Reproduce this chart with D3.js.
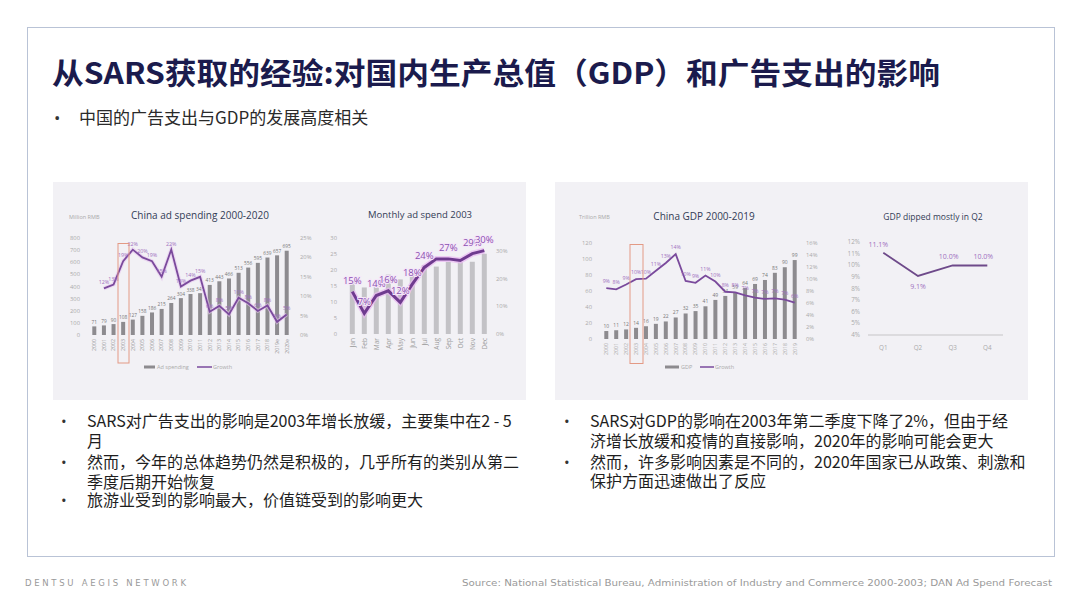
<!DOCTYPE html>
<html><head><meta charset="utf-8">
<script src="https://cdn.jsdelivr.net/npm/d3@7"></script>
<style>body{margin:0;background:#fff}svg{display:block}</style>
</head><body><svg id="s" width="1080" height="608"></svg>
<script>
// ---------- data ----------
const adYears = ["2000","2001","2002","2003","2004","2005","2006","2007","2008","2009","2010","2011","2012","2013","2014","2015","2016","2017","2018","2019e","2020e"];
const adSpend = [71,79,90,108,127,158,186,215,264,304,338,345,413,443,466,513,556,595,639,657,695];
const adGrowth = [null,12,13,19,22,20,19,15,22,12.5,14,15,6,7.5,5.3,9.6,8.2,6.2,7.6,3.4,5.3];
const adLeftTicks = [0,100,200,300,400,500,600,700,800];
const adRightTicks = [0,5,10,15,20,25];

const months = ["Jan","Feb","Mar","Apr","May","Jun","Jul","Aug","Sep","Oct","Nov","Dec"];
const monthSpend = [16.5,14.5,16,18.5,17,19,21.5,21,22.5,22.5,22.5,25];
const monthGrowth = [15.4,7.5,14,15.7,11.5,18.1,24.2,27.3,27.3,26.7,29.2,30.3];
const monthLabels = ["15%","7%","14%","16%","12%","18%","24%","","27%","","29%","30%"];
const monthLeftTicks = [0,5,10,15,20,25,30];
const monthRightTicks = [0,10,20,30];

const gdpYears = ["2000","2001","2002","2003","2004","2005","2006","2007","2008","2009","2010","2011","2012","2013","2014","2015","2016","2017","2018","2019"];
const gdp = [10,11,12,14,16,19,22,27,32,35,41,49,54,59,64,69,74,83,90,99];
const gdpGrowth = [8.5,8.3,9.1,10.0,10.1,11.4,12.7,14.2,9.7,9.4,10.6,9.6,7.9,7.8,7.3,6.9,6.7,6.8,6.6,6.1];
const gdpLeftTicks = [0,20,40,60,80,100,120];
const gdpRightTicks = [0,2,4,6,8,10,12,14,16];

const quarters = ["Q1","Q2","Q3","Q4"];
const qGrowth = [11.1,9.1,10.0,10.0];
const qTicks = [4,5,6,7,8,9,10,11,12];

const svg = d3.select("#s");
const CJK = "'Noto Sans CJK SC','Noto Sans',sans-serif";
const LAT = "'Open Sans','Noto Sans',sans-serif";
const PURPLE = "#7a4a9c";

svg.append("rect").attr("width",1080).attr("height",608).attr("fill","#fff");
svg.append("rect").attr("x",27.5).attr("y",27.5).attr("width",1027).attr("height",529)
  .attr("fill","none").attr("stroke","#b9c3d6").attr("stroke-width",1);

svg.append("text").attr("x",52).attr("y",84).attr("font-family",CJK).attr("font-weight",700)
  .attr("font-size",30).attr("fill","#1b1b4d").attr("textLength",888).attr("lengthAdjust","spacingAndGlyphs")
  .text("从SARS获取的经验:对国内生产总值（GDP）和广告支出的影响");
svg.append("text").attr("x",54).attr("y",124).attr("font-family",LAT).attr("font-size",17).attr("fill","#333").text("•");
svg.append("text").attr("x",79).attr("y",124).attr("font-family",CJK).attr("font-size",17).attr("fill","#2a2a2a")
  .text("中国的广告支出与GDP的发展高度相关");

// panels
svg.append("rect").attr("x",53).attr("y",182).attr("width",473).attr("height",218).attr("fill","#f2f1f5");
svg.append("rect").attr("x",555).attr("y",182).attr("width",473).attr("height",218).attr("fill","#f2f1f5");

function txt(g,x,y,s,size,fill,anchor,fam){
  return g.append("text").attr("x",x).attr("y",y).attr("font-size",size).attr("fill",fill)
    .attr("text-anchor",anchor||"start").attr("font-family",fam||LAT).text(s);
}
function rotLabels(g,data,xs,y,size,fill){
  g.selectAll(null).data(data).join("text")
    .attr("transform",d=>`translate(${xs(d)+size*0.35},${y}) rotate(-90)`)
    .attr("text-anchor","end").attr("font-size",size).attr("font-family",LAT).attr("fill",fill).text(d=>d);
}

// ---------- chart 1 ----------
{
  const g = svg.append("g");
  const x = d3.scalePoint().domain(adYears).range([94.3,286.7]);
  const yL = d3.scaleLinear().domain([0,800]).range([335,238]);
  const yR = d3.scaleLinear().domain([0,25]).range([335,238]);
  txt(g,200,219,"China ad spending 2000-2020",10,"#333c55","middle");
  txt(g,69,219,"Million RMB",5.5,"#aaa");
  g.selectAll(null).data(adLeftTicks).join("text").attr("x",80).attr("y",d=>yL(d)+2).attr("text-anchor","end")
    .attr("font-size",5.8).attr("fill","#aaa").attr("font-family",LAT).text(d=>d);
  g.selectAll(null).data(adRightTicks).join("text").attr("x",300).attr("y",d=>yR(d)+2)
    .attr("font-size",5.8).attr("fill","#aaa").attr("font-family",LAT).text(d=>d+"%");
  g.selectAll(null).data(adSpend).join("rect").attr("x",(d,i)=>x(adYears[i])-2).attr("width",4)
    .attr("y",d=>yL(d)).attr("height",d=>yL(0)-yL(d)).attr("fill","#8d8b8f");
  g.selectAll(null).data(adSpend).join("text").attr("x",(d,i)=>x(adYears[i])).attr("y",d=>yL(d)-2.5)
    .attr("text-anchor","middle").attr("font-size",4.8).attr("fill","#777").attr("font-family",LAT).text(d=>d);
  const pts = adGrowth.map((v,i)=>[x(adYears[i]),v]).filter(p=>p[1]!=null);
  const line = d3.line().x(p=>p[0]).y(p=>yR(p[1]));
  g.append("path").attr("d",line(pts)).attr("fill","none").attr("stroke","#e6c6ee").attr("stroke-width",4).attr("opacity",0.6);
  g.append("path").attr("d",line(pts)).attr("fill","none").attr("stroke",PURPLE).attr("stroke-width",1.8);
  g.selectAll(null).data(pts).join("text").attr("x",p=>p[0]).attr("y",p=>yR(p[1])-4)
    .attr("text-anchor","middle").attr("font-size",5.3).attr("fill","#a070c0").attr("font-family",LAT)
    .text(p=>Math.round(p[1])+"%");
  rotLabels(g,adYears,x,339,5.2,"#999");
  g.append("rect").attr("x",118).attr("y",243.5).attr("width",11).attr("height",119.5)
    .attr("fill","none").attr("stroke","#e39a85").attr("stroke-width",1);
  g.append("rect").attr("x",144).attr("y",365.5).attr("width",11).attr("height",3).attr("fill","#8d8b8f");
  txt(g,157,369,"Ad spending",5.5,"#aaa");
  g.append("line").attr("x1",197).attr("x2",212).attr("y1",367).attr("y2",367).attr("stroke",PURPLE).attr("stroke-width",1.5);
  txt(g,213,369,"Growth",5.5,"#aaa");
}

// ---------- chart 2 ----------
{
  const g = svg.append("g");
  const x = d3.scalePoint().domain(months).range([352.3,484.3]);
  const yL = d3.scaleLinear().domain([0,30]).range([334,237.7]);
  const yR = d3.scaleLinear().domain([0,35]).range([334,237.7]);
  txt(g,420,218,"Monthly ad spend 2003",9.5,"#333c55","middle");
  g.selectAll(null).data(monthLeftTicks).join("text").attr("x",337).attr("y",d=>yL(d)+2).attr("text-anchor","end")
    .attr("font-size",5.8).attr("fill","#aaa").attr("font-family",LAT).text(d=>d);
  g.selectAll(null).data(monthRightTicks).join("text").attr("x",496).attr("y",d=>yR(d)+2)
    .attr("font-size",5.8).attr("fill","#aaa").attr("font-family",LAT).text(d=>d+"%");
  g.selectAll(null).data(monthSpend).join("rect").attr("x",(d,i)=>x(months[i])-2.5).attr("width",5)
    .attr("y",d=>yL(d)).attr("height",d=>yL(0)-yL(d)).attr("fill","#c3c2c6");
  const line = d3.line().x((v,i)=>x(months[i])).y(v=>yR(v));
  g.append("path").attr("d",line(monthGrowth)).attr("fill","none").attr("stroke","#eab8f2").attr("stroke-width",6).attr("opacity",0.7);
  g.append("path").attr("d",line(monthGrowth)).attr("fill","none").attr("stroke","#6f3b8f").attr("stroke-width",3);
  g.selectAll(null).data(monthGrowth).join("text").attr("x",(v,i)=>x(months[i])).attr("y",v=>yR(v)-8)
    .attr("text-anchor","middle").attr("font-size",9.5).attr("fill","#8a52b0").attr("font-family",LAT)
    .attr("stroke","#f6e6fa").attr("stroke-width",2).attr("paint-order","stroke")
    .text((v,i)=>monthLabels[i]);
  rotLabels(g,months,x,338,6.5,"#999");
}

// ---------- chart 3 ----------
{
  const g = svg.append("g");
  const x = d3.scalePoint().domain(gdpYears).range([606.3,794.7]);
  const yL = d3.scaleLinear().domain([0,120]).range([339,243.3]);
  const yR = d3.scaleLinear().domain([0,16]).range([339,243.3]);
  txt(g,704,220,"China GDP 2000-2019",10,"#333c55","middle");
  txt(g,579,219,"Trillion RMB",5.5,"#aaa");
  g.selectAll(null).data(gdpLeftTicks).join("text").attr("x",592).attr("y",d=>yL(d)+2).attr("text-anchor","end")
    .attr("font-size",5.8).attr("fill","#aaa").attr("font-family",LAT).text(d=>d);
  g.selectAll(null).data(gdpRightTicks).join("text").attr("x",806).attr("y",d=>yR(d)+2)
    .attr("font-size",5.8).attr("fill","#aaa").attr("font-family",LAT).text(d=>d+"%");
  g.selectAll(null).data(gdp).join("rect").attr("x",(d,i)=>x(gdpYears[i])-2).attr("width",4)
    .attr("y",d=>yL(d)).attr("height",d=>yL(0)-yL(d)).attr("fill","#8d8b8f");
  g.selectAll(null).data(gdp).join("text").attr("x",(d,i)=>x(gdpYears[i])).attr("y",d=>yL(d)-3)
    .attr("text-anchor","middle").attr("font-size",5).attr("fill","#777").attr("font-family",LAT).text(d=>d);
  const line = d3.line().x((v,i)=>x(gdpYears[i])).y(v=>yR(v));
  g.append("path").attr("d",line(gdpGrowth)).attr("fill","none").attr("stroke",PURPLE).attr("stroke-width",1.8);
  g.selectAll(null).data(gdpGrowth).join("text").attr("x",(v,i)=>x(gdpYears[i])).attr("y",v=>yR(v)-5)
    .attr("text-anchor","middle").attr("font-size",5.2).attr("fill","#a070c0").attr("font-family",LAT)
    .text(v=>Math.round(v)+"%");
  rotLabels(g,gdpYears,x,343,5.2,"#aaa");
  g.append("rect").attr("x",630).attr("y",244.5).attr("width",13).attr("height",119)
    .attr("fill","none").attr("stroke","#e39a85").attr("stroke-width",1);
  g.append("rect").attr("x",665).attr("y",365.5).attr("width",14).attr("height",3).attr("fill","#8d8b8f");
  txt(g,681,369,"GDP",5.5,"#aaa");
  g.append("line").attr("x1",700).attr("x2",714).attr("y1",367).attr("y2",367).attr("stroke",PURPLE).attr("stroke-width",1.5);
  txt(g,715,369,"Growth",5.5,"#aaa");
}

// ---------- chart 4 ----------
{
  const g = svg.append("g");
  const x = d3.scalePoint().domain(quarters).range([883.3,987.3]);
  const y = d3.scaleLinear().domain([4,12]).range([335,242.3]);
  txt(g,933,220,"GDP dipped mostly in Q2",8.5,"#333c55","middle");
  g.selectAll(null).data(qTicks).join("text").attr("x",860).attr("y",d=>y(d)+2).attr("text-anchor","end")
    .attr("font-size",6.3).attr("fill","#aaa").attr("font-family",LAT).text(d=>d+"%");
  g.append("line").attr("x1",868).attr("x2",1003).attr("y1",y(4)).attr("y2",y(4)).attr("stroke","#bbb").attr("stroke-width",0.8);
  const line = d3.line().x((v,i)=>x(quarters[i])).y(v=>y(v));
  g.append("path").attr("d",line(qGrowth)).attr("fill","none").attr("stroke","#6e4a8a").attr("stroke-width",1.8);
  g.selectAll(null).data(qGrowth).join("text").attr("x",(v,i)=>x(quarters[i])+(i===0?-5:(i===1?0:-4)))
    .attr("y",(v,i)=>i===1?y(v)+13:y(v)-6)
    .attr("text-anchor","middle").attr("font-size",7).attr("fill","#a070c0").attr("font-family",LAT)
    .text(v=>v.toFixed(1)+"%");
  g.selectAll(null).data(quarters).join("text").attr("x",d=>x(d)).attr("y",350).attr("text-anchor","middle")
    .attr("font-size",6.3).attr("fill","#aaa").attr("font-family",LAT).text(d=>d);
}

// ---------- bullet texts ----------
function bullets(x0,lines){
  lines.forEach(l=>{
    if(l.b) svg.append("text").attr("x",x0).attr("y",l.y).attr("font-family",LAT).attr("font-size",15).attr("fill","#333").text("•");
    svg.append("text").attr("x",x0+26).attr("y",l.y).attr("font-family",CJK).attr("font-size",16).attr("fill","#1e1e1e").text(l.t);
  });
}
bullets(61,[
  {b:1,y:427,t:"SARS对广告支出的影响是2003年增长放缓，主要集中在2 - 5"},
  {b:0,y:447,t:"月"},
  {b:1,y:468,t:"然而，今年的总体趋势仍然是积极的，几乎所有的类别从第二"},
  {b:0,y:488,t:"季度后期开始恢复"},
  {b:1,y:506,t:"旅游业受到的影响最大，价值链受到的影响更大"}
]);
bullets(564,[
  {b:1,y:427,t:"SARS对GDP的影响在2003年第二季度下降了2%，但由于经"},
  {b:0,y:447,t:"济增长放缓和疫情的直接影响，2020年的影响可能会更大"},
  {b:1,y:468,t:"然而，许多影响因素是不同的，2020年国家已从政策、刺激和"},
  {b:0,y:487,t:"保护方面迅速做出了反应"}
]);

// footer
svg.append("text").attr("x",25).attr("y",586).attr("font-family","'DejaVu Sans',sans-serif").attr("font-size",8.5)
  .attr("fill","#9a9a9a").attr("letter-spacing",2.7).text("DENTSU AEGIS NETWORK");
svg.append("text").attr("x",462).attr("y",586).attr("font-family","'DejaVu Sans',sans-serif").attr("font-size",9.5)
  .attr("fill","#9a9a9a").attr("textLength",590).attr("lengthAdjust","spacingAndGlyphs")
  .text("Source: National Statistical Bureau, Administration of Industry and Commerce 2000-2003; DAN Ad Spend Forecast");
</script></body></html>
